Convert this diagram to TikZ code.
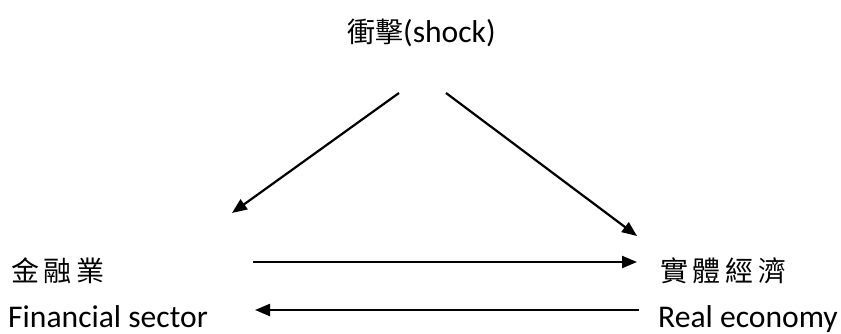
\documentclass[tikz,border=0pt]{standalone}
\usepackage{fontspec}
\setmainfont{Carlito}
\newfontfamily\cjk{Noto Sans CJK TC}
\usetikzlibrary{arrows.meta}
\tikzset{
  lbl/.style={anchor=base west,inner sep=0pt,font=\fontsize{31.6}{36}\selectfont},
  zh/.style={anchor=base west,inner sep=0pt,font=\fontsize{28}{32}\cjk},
  arr/.style={line width=2.2pt,-{Triangle[length=15pt,width=12pt]}}
}
\begin{document}
\begin{tikzpicture}[x=1pt,y=-1pt]
\useasboundingbox (0,0) rectangle (841,334);
\node[lbl] (shock) at (347,43) {{\cjk\fontsize{28}{32}\selectfont 衝擊}(shock)};
\node[zh] (finzh) at (11,281) {金\,融\,業};
\node[lbl] (finen) at (8,327) {Financial sector};
\node[zh] (realzh) at (660,281) {實\,體\,經\,濟};
\node[lbl] (realen) at (658,327) {Real economy};
\coordinate (s1) at (399,93);
\coordinate (f1) at (232,213);
\coordinate (s2) at (446,93);
\coordinate (r1) at (637,236);
\coordinate (fa) at (253,262);
\coordinate (ra) at (637,262);
\coordinate (rb) at (639,310);
\coordinate (fb) at (255,310);
\draw[arr] (s1) -- (f1);
\draw[arr] (s2) -- (r1);
\draw[arr] (fa) -- (ra);
\draw[arr] (rb) -- (fb);
\end{tikzpicture}
\end{document}
